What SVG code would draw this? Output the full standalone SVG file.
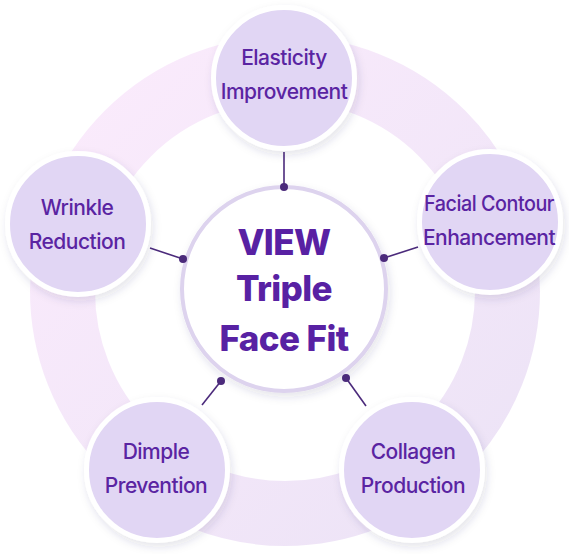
<svg xmlns="http://www.w3.org/2000/svg" width="569" height="554" viewBox="0 0 569 554">
  <defs>
    <linearGradient id="ringGrad" x1="0" y1="0" x2="1" y2="1">
      <stop offset="0" stop-color="#FBEBFC"/>
      <stop offset="1" stop-color="#ECE3F6"/>
    </linearGradient>
    <filter id="shadow" x="-20%" y="-20%" width="140%" height="140%">
      <feDropShadow dx="2" dy="4" stdDeviation="4" flood-color="#3A2260" flood-opacity="0.13"/>
    </filter>
    <style>
      .sat { fill: #E1D6F4; stroke: #FFFFFF; stroke-width: 5; filter: url(#shadow); }
      .satText { font-family: Inter, "Noto Sans", "Liberation Sans", sans-serif; font-size: 21px; font-weight: 500; fill: #5A24A2; text-anchor: middle; letter-spacing: -0.5px; }
      .hub { fill: #FFFFFF; stroke: #DDD3EE; stroke-width: 4; filter: url(#shadow); }
      .hubText { font-family: Inter, "Noto Sans", "Liberation Sans", sans-serif; font-size: 35px; font-weight: 800; fill: #5821A3; text-anchor: middle; letter-spacing: -0.6px; }
      .conn { stroke: #4B2A7B; stroke-width: 1.6; fill: none; }
      .dot { fill: #4B2A7B; }
    </style>
  </defs>

  <circle id="ring" cx="285" cy="291" r="222.5" fill="none" stroke="url(#ringGrad)" stroke-width="65"/>

  <g id="hub">
    <circle class="hub" cx="284" cy="289" r="102"/>
    <text class="hubText" x="284" y="255">VIEW</text>
    <text class="hubText" x="284" y="301">Triple</text>
    <text class="hubText" x="284" y="351">Face Fit</text>
  </g>

  <g id="connectors">
    <line class="conn" x1="284" y1="152" x2="284" y2="187"/>
    <circle class="dot" cx="284" cy="187" r="4"/>
    <line class="conn" x1="418" y1="247" x2="384" y2="258"/>
    <circle class="dot" cx="384" cy="258" r="4"/>
    <line class="conn" x1="366" y1="406" x2="346" y2="378"/>
    <circle class="dot" cx="346" cy="378" r="4"/>
    <line class="conn" x1="202" y1="405" x2="221" y2="381"/>
    <circle class="dot" cx="221" cy="381" r="4"/>
    <line class="conn" x1="150" y1="248" x2="183" y2="259"/>
    <circle class="dot" cx="183" cy="259" r="4"/>
  </g>

  <g id="elasticity">
    <circle class="sat" cx="284" cy="78" r="70.5"/>
    <text class="satText" x="284" y="65">Elasticity</text>
    <text class="satText" x="284" y="99">Improvement</text>
  </g>

  <g id="facial-contour">
    <circle class="sat" cx="490" cy="222" r="70.5"/>
    <text class="satText" x="489" y="211" textLength="130" lengthAdjust="spacingAndGlyphs">Facial Contour</text>
    <text class="satText" x="489" y="245">Enhancement</text>
  </g>

  <g id="collagen">
    <circle class="sat" cx="412" cy="470" r="70.5"/>
    <text class="satText" x="413" y="459">Collagen</text>
    <text class="satText" x="413" y="493">Production</text>
  </g>

  <g id="dimple">
    <circle class="sat" cx="157" cy="470" r="70.5"/>
    <text class="satText" x="156" y="459">Dimple</text>
    <text class="satText" x="156" y="493">Prevention</text>
  </g>

  <g id="wrinkle">
    <circle class="sat" cx="78" cy="224" r="70.5"/>
    <text class="satText" x="77" y="215">Wrinkle</text>
    <text class="satText" x="77" y="249">Reduction</text>
  </g>
</svg>
